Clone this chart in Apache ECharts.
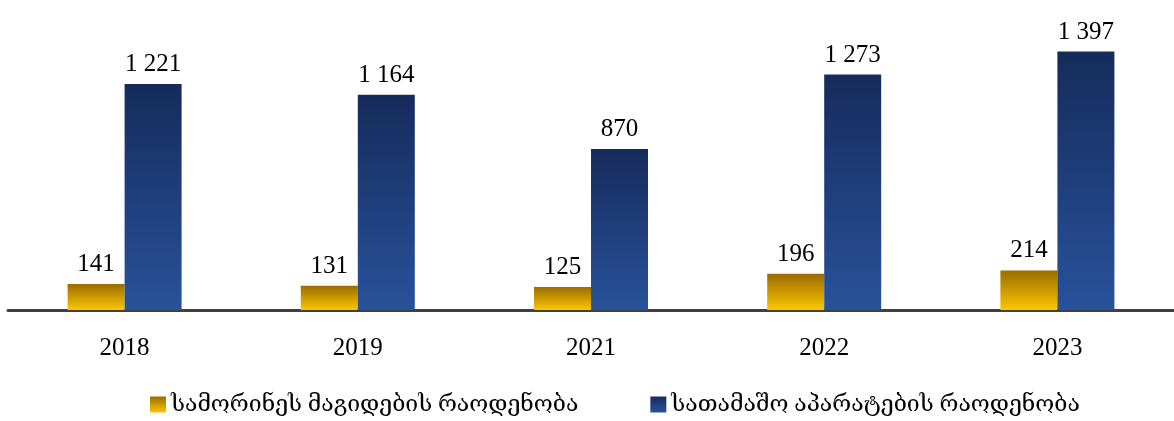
<!DOCTYPE html>
<html>
<head>
<meta charset="utf-8">
<script src="https://cdn.jsdelivr.net/npm/echarts@6/dist/echarts.min.js"></script>
<style>
html,body{margin:0;padding:0;background:#fff;}
#chart{width:1174px;height:421px;}
</style>
</head>
<body>
<div id="chart"></div>
<script>
var years = ['2018', '2019', '2021', '2022', '2023'];
var seriesNames = ['სამორინეს მაგიდების რაოდენობა', 'სათამაშო აპარატების რაოდენობა'];
var tables = [141, 131, 125, 196, 214];
var machines = [1221, 1164, 870, 1273, 1397];

var FONT = '"Liberation Serif", "DejaVu Serif", serif';

// 1 221 -> ათასების გამყოფი ჰარით
function fmt(v) {
	return String(v).replace(/\B(?=(\d{3})+(?!\d))/g, ' ');
}

var myChart = echarts.init(document.getElementById('chart'));

var goldGrad = new echarts.graphic.LinearGradient(0, 0, 0, 1, [
	{offset: 0, color: '#9a6c00'},
	{offset: 1, color: '#fcc600'}
]);
var blueGrad = new echarts.graphic.LinearGradient(0, 0, 0, 1, [
	{offset: 0, color: '#162b5b'},
	{offset: 1, color: '#28529b'}
]);

var option = {
	animation: false,
	grid: {left: 8, right: 0, top: 14, bottom: 111},
	legend: {
		bottom: 0,
		left: 145,
		itemWidth: 16,
		itemHeight: 16,
		itemGap: 72,
		icon: 'rect',
		textStyle: {fontFamily: FONT, fontSize: 23, color: '#000'},
		data: seriesNames
	},
	xAxis: {
		type: 'category',
		data: years,
		axisLine: {lineStyle: {color: '#404040', width: 3}},
		axisTick: {show: false},
		axisLabel: {fontFamily: FONT, fontSize: 25, color: '#000', margin: 26}
	},
	yAxis: {
		type: 'value',
		min: 0,
		max: 1600,
		show: false,
		splitLine: {show: false}
	},
	series: [
		{
			name: seriesNames[0],
			type: 'bar',
			data: tables,
			barWidth: 57,
			barGap: '0%',
			itemStyle: {color: goldGrad},
			label: {
				show: true, position: 'top', distance: 7,
				fontFamily: FONT, fontSize: 25, color: '#000',
				formatter: function (p) { return fmt(p.value); }
			}
		},
		{
			name: seriesNames[1],
			type: 'bar',
			data: machines,
			barWidth: 57,
			barGap: '0%',
			itemStyle: {color: blueGrad},
			label: {
				show: true, position: 'top', distance: 7,
				fontFamily: FONT, fontSize: 25, color: '#000',
				formatter: function (p) { return fmt(p.value); }
			}
		}
	]
};

myChart.setOption(option);
</script>
</body>
</html>
